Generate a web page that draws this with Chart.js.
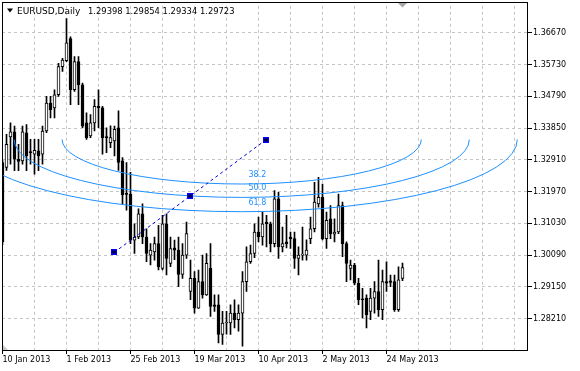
<!DOCTYPE html>
<html><head><meta charset="utf-8">
<script src="https://cdn.jsdelivr.net/npm/chart.js@4.4.0/dist/chart.umd.min.js"></script>
<style>html,body{margin:0;padding:0;background:#fff;overflow:hidden}#wrap{position:relative;width:580px;height:371px}</style>
</head><body><div id="wrap"><canvas id="c" width="580" height="371"></canvas></div>
<script>
// ---- data ----
const symbolTitle = 'EURUSD,Daily';
const lastQuote = ['1.29398', '1.29854', '1.29334', '1.29723'];

const opens = [1.32832,1.32685,1.33587,1.33742,1.32929,1.32882,1.33713,1.33140,1.33075,1.33175,
1.33075,1.33763,1.34594,1.34447,1.34838,1.35672,1.35848,1.36503,1.34985,1.35819,
1.35132,1.34007,1.33616,1.34007,1.34497,1.34447,1.33580,1.33419,1.33469,1.33860,
1.32882,1.31900,1.31900,1.30532,1.30628,1.31313,1.30628,1.30091,1.30188,1.30432,
1.29697,1.31019,1.29844,1.30305,1.30238,1.29521,1.30091,1.29013,1.29404,1.28522,
1.29307,1.28916,1.29697,1.28622,1.28622,1.27741,1.28082,1.28082,1.28375,1.28182,
1.28375,1.29307,1.29894,1.30138,1.30775,1.30628,1.31069,1.31019,1.30432,1.31754,
1.30335,1.30482,1.30628,1.30579,1.29991,1.30091,1.30091,1.30579,1.30872,1.31607,
1.31804,1.30579,1.31166,1.30708,1.30775,1.31560,1.30432,1.29697,1.29797,1.29257,
1.28798,1.28816,1.28425,1.28816,1.29013,1.28475,1.29307,1.29327,1.29307,1.28475,
1.29398];
const highs = [1.32900,1.33663,1.34007,1.33910,1.33369,1.33910,1.33957,1.33516,1.33516,1.33516,
1.33910,1.34791,1.34791,1.34985,1.35769,1.35916,1.37091,1.36553,1.35966,1.35966,
1.35182,1.34300,1.34250,1.34691,1.34985,1.34497,1.33860,1.33918,1.33910,1.34359,
1.32979,1.32832,1.32538,1.31019,1.31460,1.31607,1.30872,1.30432,1.30628,1.30972,
1.31266,1.31313,1.30628,1.30532,1.30628,1.30432,1.31069,1.29944,1.29600,1.29650,
1.30091,1.30138,1.30432,1.28916,1.28916,1.28425,1.28425,1.28622,1.28769,1.28622,
1.29600,1.30335,1.30385,1.31019,1.31216,1.31363,1.31266,1.31069,1.32000,1.31950,
1.30922,1.31266,1.30775,1.30775,1.30335,1.30922,1.30540,1.31216,1.32244,1.32391,
1.32194,1.31363,1.31560,1.31166,1.31900,1.31657,1.30482,1.29944,1.29844,1.29404,
1.29110,1.28916,1.29110,1.29307,1.29944,1.29650,1.29894,1.29503,1.29503,1.29747,
1.29854];
const lows = [1.30400,1.32597,1.32782,1.32588,1.32588,1.32782,1.32588,1.32782,1.32488,1.32588,
1.32782,1.33713,1.34153,1.34153,1.34791,1.35525,1.35819,1.34544,1.34938,1.34544,
1.33860,1.33516,1.33566,1.33763,1.33860,1.33075,1.33125,1.33272,1.33028,1.32597,
1.31607,1.31422,1.30432,1.30138,1.30579,1.30432,1.29894,1.29797,1.29944,1.29650,
1.29650,1.29503,1.29747,1.29953,1.29160,1.29404,1.29991,1.28769,1.28375,1.28510,
1.28816,1.28900,1.28279,1.28425,1.27494,1.27447,1.27750,1.27741,1.27935,1.27838,
1.27397,1.29013,1.29844,1.30012,1.30482,1.30385,1.30335,1.30188,1.30335,1.29991,
1.30188,1.30305,1.30285,1.29697,1.29503,1.29944,1.29944,1.30432,1.30775,1.31510,
1.30540,1.30285,1.30579,1.30482,1.30725,1.30041,1.29307,1.29356,1.29210,1.28622,
1.28228,1.27935,1.28182,1.28375,1.28279,1.28182,1.29013,1.29160,1.28425,1.28425,
1.29334];
const closes = [1.30482,1.33369,1.33742,1.32929,1.32861,1.33742,1.33028,1.33125,1.33193,1.33028,
1.33763,1.34594,1.34397,1.34838,1.35672,1.35866,1.36377,1.34985,1.35819,1.35132,
1.33910,1.33566,1.34007,1.34497,1.34447,1.33566,1.33566,1.33566,1.33810,1.32832,
1.31871,1.31890,1.30532,1.30628,1.31313,1.30628,1.30138,1.30238,1.30432,1.29747,
1.31019,1.29991,1.30285,1.30238,1.29521,1.30091,1.30725,1.29404,1.28522,1.29307,
1.28916,1.29844,1.28572,1.28572,1.27741,1.28082,1.28090,1.28375,1.28182,1.28375,
1.29307,1.29894,1.30138,1.30775,1.30628,1.31019,1.31019,1.30432,1.31754,1.30335,
1.30432,1.30432,1.30579,1.29991,1.30091,1.30095,1.30238,1.30872,1.31657,1.31804,
1.30579,1.31119,1.30725,1.30775,1.31560,1.30432,1.29844,1.29797,1.29257,1.28769,
1.28769,1.28328,1.28816,1.29013,1.28475,1.29307,1.29257,1.29286,1.28475,1.29356,
1.29723];

const xTickLabels = ['10 Jan 2013', '1 Feb 2013', '25 Feb 2013', '19 Mar 2013', '10 Apr 2013', '2 May 2013', '24 May 2013'];
const xTickBars = [0, 16, 32, 48, 64, 80, 96];
const xGridBars = [0, 8, 16, 24, 32, 40, 48, 56, 64, 72, 80, 88, 96, 104, 112, 120, 128];
const yTicks = [1.28210, 1.29150, 1.30090, 1.31030, 1.31970, 1.32910, 1.33850, 1.34790, 1.35730, 1.36670];
const yRange = [1.27282, 1.37470];
const xRange = [-0.125, 131.375];

// Fibonacci arcs object
const fibLevels = ['38.2', '50.0', '61.8'];
const fibArcCenter = [59.8, 1.33512];          // [bar, price]
const fibArcRadiusBars = [44.9, 56.9, 68.9];
const fibArcRadiusPrice = [0.01317, 0.01713, 0.02137];
const fibTrendStart = [27.95, 1.30172];        // [bar, price]
const fibTrendEnd = [65.95, 1.33512];

// ---- chart ----
const bodyData = opens.map((o, i) => ({x: i, y: [o, closes[i]]}));
const wickData = lows.map((l, i) => ({x: i, y: [l, highs[i]]}));
const bodyFill = opens.map((o, i) => closes[i] >= o ? '#ffffff' : '#000000');
const labelFor = v => { const k = xTickBars.indexOf(v); return k >= 0 ? xTickLabels[k] : ''; };
const FONT = 'DejaVu Sans';

const overlay = {
  id: 'overlay',
  afterDatasetsDraw(chart) {
    const {ctx, chartArea: a, scales: {x, y}} = chart;
    ctx.save();
    // arcs
    ctx.save();
    ctx.beginPath(); ctx.rect(a.left, a.top, a.right - a.left, a.bottom - a.top); ctx.clip();
    const cx = x.getPixelForValue(fibArcCenter[0]);
    const cy = y.getPixelForValue(fibArcCenter[1]);
    const tx = x.getPixelForValue(fibTrendEnd[0]);
    ctx.strokeStyle = '#1E90FF'; ctx.lineWidth = 1;
    ctx.font = '8px "' + FONT + '"';
    ctx.fillStyle = '#1E90FF'; ctx.textAlign = 'right'; ctx.textBaseline = 'alphabetic';
    fibLevels.forEach((lv, k) => {
      const rx = x.getPixelForValue(fibArcCenter[0] + fibArcRadiusBars[k]) - cx;
      const ry = y.getPixelForValue(fibArcCenter[1] - fibArcRadiusPrice[k]) - cy;
      ctx.beginPath(); ctx.ellipse(cx, cy, rx, ry, 0, 0, Math.PI); ctx.stroke();
      ctx.fillText(lv, tx, cy + ry - 7);
    });
    // trend line
    const x1 = x.getPixelForValue(fibTrendStart[0]), y1 = y.getPixelForValue(fibTrendStart[1]);
    const x2 = tx, y2 = y.getPixelForValue(fibTrendEnd[1]);
    ctx.strokeStyle = '#0000E0'; ctx.setLineDash([3, 3]);
    ctx.beginPath(); ctx.moveTo(x1, y1); ctx.lineTo(x2, y2); ctx.stroke();
    ctx.setLineDash([]);
    [[x1, y1], [(x1 + x2) / 2, (y1 + y2) / 2], [x2, y2]].forEach(([px, py]) => {
      const rx = Math.round(px), ry = Math.round(py);
      ctx.fillStyle = '#0000FF'; ctx.fillRect(rx - 3, ry - 3, 6, 6);
      ctx.fillStyle = '#000022'; ctx.fillRect(rx - 1.5, ry - 1.5, 3, 3);
    });
    ctx.restore();
    // frame
    ctx.strokeStyle = '#000'; ctx.lineWidth = 1;
    ctx.beginPath();
    ctx.moveTo(2.5, 2); ctx.lineTo(2.5, 351);
    ctx.moveTo(2, 2.5); ctx.lineTo(528, 2.5);
    ctx.moveTo(527.5, 2); ctx.lineTo(527.5, 351);
    ctx.moveTo(2, 350.5); ctx.lineTo(528, 350.5);
    ctx.stroke();
    // shift triangle at last bar
    const lx = x.getPixelForValue(opens.length - 1);
    ctx.fillStyle = '#a8a8a8';
    ctx.beginPath(); ctx.moveTo(lx - 4.5, 3); ctx.lineTo(lx + 4.5, 3); ctx.lineTo(lx, 7.5); ctx.closePath(); ctx.fill();
    ctx.fillStyle = '#c8c8c8';
    ctx.beginPath(); ctx.moveTo(3, 345); ctx.lineTo(3, 350); ctx.lineTo(8, 350); ctx.closePath(); ctx.fill();
    // title
    ctx.fillStyle = '#000';
    ctx.beginPath(); ctx.moveTo(7, 8.5); ctx.lineTo(13, 8.5); ctx.lineTo(10, 12.5); ctx.closePath(); ctx.fill();
    ctx.textAlign = 'left'; ctx.textBaseline = 'alphabetic';
    ctx.font = '9px "' + FONT + '"';
    ctx.fillText(symbolTitle, 17, 13.5);
    ctx.font = '8.4px "' + FONT + '"';
    ctx.fillText(lastQuote.join(' '), 88, 13.5);
    ctx.restore();
  }
};

new Chart(document.getElementById('c'), {
  type: 'bar',
  data: {
    datasets: [
      {label: 'body', data: bodyData, backgroundColor: bodyFill, borderColor: '#000', borderWidth: 1,
       borderSkipped: false, barThickness: 3, minBarLength: 1, grouped: false, order: 1},
      {label: 'wick', data: wickData, backgroundColor: '#000', borderWidth: 0,
       barThickness: 1, grouped: false, order: 2}
    ]
  },
  options: {
    responsive: false, animation: false, devicePixelRatio: 1,
    layout: {padding: {left: 2, top: 2, right: 0, bottom: 0}},
    plugins: {legend: {display: false}, tooltip: {enabled: false}},
    scales: {
      x: {
        type: 'linear', min: xRange[0], max: xRange[1], offset: false,
        afterBuildTicks: s => { s.ticks = xGridBars.map(v => ({value: v})); },
        afterFit: s => { s.height = 21; },
        grid: {color: '#c4c4c4', lineWidth: 1, offset: false, tickLength: 4,
               tickColor: c => (c.tick && labelFor(c.tick.value)) ? '#000' : 'rgba(0,0,0,0)'},
        border: {display: false, dash: [3, 3]},
        ticks: {autoSkip: false, maxRotation: 0, minRotation: 0, align: 'start', padding: 1, color: '#000',
                font: {family: FONT, size: 8}, callback: v => labelFor(v)}
      },
      y: {
        type: 'linear', position: 'right', min: yRange[0], max: yRange[1],
        afterBuildTicks: s => { s.ticks = yTicks.map(v => ({value: v})); },
        afterFit: s => { s.width = 52; },
        grid: {color: '#c4c4c4', lineWidth: 1, tickLength: 4, tickColor: '#000'},
        border: {display: false, dash: [3, 3]},
        ticks: {autoSkip: false, padding: 1, color: '#000', font: {family: FONT, size: 8},
                callback: v => Number(v).toFixed(5)}
      }
    }
  },
  plugins: [overlay]
});
</script></body></html>
